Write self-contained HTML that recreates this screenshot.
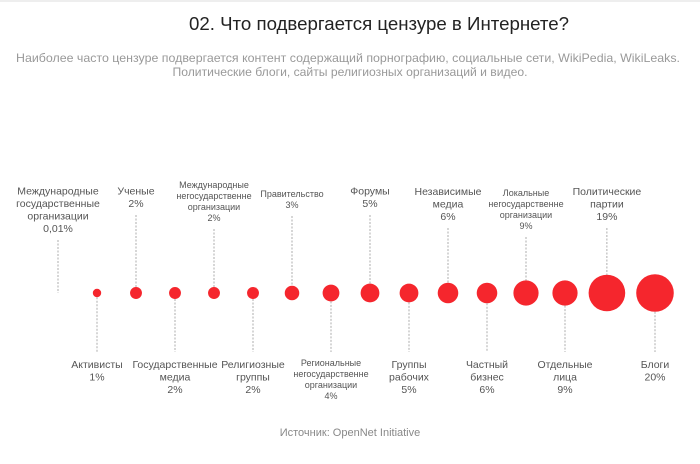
<!DOCTYPE html>
<html><head><meta charset="utf-8"><style>
body{margin:0;background:#fff;width:700px;height:459px;overflow:hidden;}
svg text{font-family:"Liberation Sans",sans-serif;}
</style></head><body>
<svg id="chart" width="700" height="459" viewBox="0 0 700 459">
<rect x="0" y="0" width="700" height="2" fill="#eee"/>
<text x="379" y="30" text-anchor="middle" font-size="18.5" fill="#222" textLength="380" lengthAdjust="spacingAndGlyphs">02. Что подвергается цензуре в Интернете?</text>
<text x="348" y="62" text-anchor="middle" font-size="12" fill="#999" textLength="664" lengthAdjust="spacingAndGlyphs">Наиболее часто цензуре подвергается контент содержащий порнографию, социальные сети, WikiPedia, WikiLeaks.</text>
<text x="350" y="76" text-anchor="middle" font-size="12" fill="#999" textLength="355" lengthAdjust="spacingAndGlyphs">Политические блоги, сайты религиозных организаций и видео.</text>
<text x="350" y="436" text-anchor="middle" font-size="11" fill="#888">Источник: OpenNet Initiative</text>
<g id="marks"></g>
</svg>
<script>
const categories = [
 ["Международные","государственные","организации"],
 ["Активисты"],
 ["Ученые"],
 ["Государственные","медиа"],
 ["Международные","негосударственне","организации"],
 ["Религиозные","группы"],
 ["Правительство"],
 ["Региональные","негосударственне","организации"],
 ["Форумы"],
 ["Группы","рабочих"],
 ["Независимые","медиа"],
 ["Частный","бизнес"],
 ["Локальные","негосударственне","организации"],
 ["Отдельные","лица"],
 ["Политические","партии"],
 ["Блоги"]
];
const values = [0.01,1,2,2,2,2,3,4,5,5,6,6,9,9,19,20];
const valueLabels = ["0,01%","1%","2%","2%","2%","2%","3%","4%","5%","5%","6%","6%","9%","9%","19%","20%"];
const smallLabel = [false,false,false,false,true,false,true,true,false,false,false,false,true,false,false,false];

const NS="http://www.w3.org/2000/svg";
const g=document.getElementById('marks');
const cy=293;
function rScale(v){return v<0.1?0:4.2*Math.sqrt(v);}
function mk(t,a){const e=document.createElementNS(NS,t);for(const k in a)e.setAttribute(k,a[k]);return e;}
let x=58, prevR=0;
values.forEach((v,i)=>{
  const r=rScale(v);
  if(i>0){x+=Math.max(39,prevR+r+11);}
  prevR=r;
  const top=i%2===0;
  const fs=smallLabel[i]?9:10.5;
  const lh=smallLabel[i]?11:12.5;
  const lines=categories[i].concat([valueLabels[i]]);
  if(r>0){
    const c=mk('circle',{cx:x,cy:cy,r:r,fill:'#f5262d'});
    
    
    g.appendChild(c);
  }
  let lineY1,lineY2,firstBase;
  if(top){
    let lastBase;
    if(smallLabel[i]) lastBase = lines.length===2?208:(i===4?221:229);
    else lastBase = lines.length===2?207:(lines.length===3?220:232);
    firstBase=lastBase-(lines.length-1)*lh;
    lineY1=lastBase+8; lineY2=cy-r;
  } else {
    firstBase=smallLabel[i]?366:368;
    lineY1=cy+r; lineY2=352;
  }
  const ln=mk('line',{x1:x,y1:lineY1,x2:x,y2:lineY2,stroke:'#999','stroke-width':0.8,'stroke-dasharray':'2,1.5'});
  
  
  g.appendChild(ln);
  const t=mk('text',{x:x,'text-anchor':'middle','font-size':fs,fill:'#555'});
  
  
  lines.forEach((s,j)=>{const ts=mk('tspan',{x:x,y:firstBase+j*lh});ts.textContent=s;t.appendChild(ts);});
  g.appendChild(t);
});
</script>
</body></html>
